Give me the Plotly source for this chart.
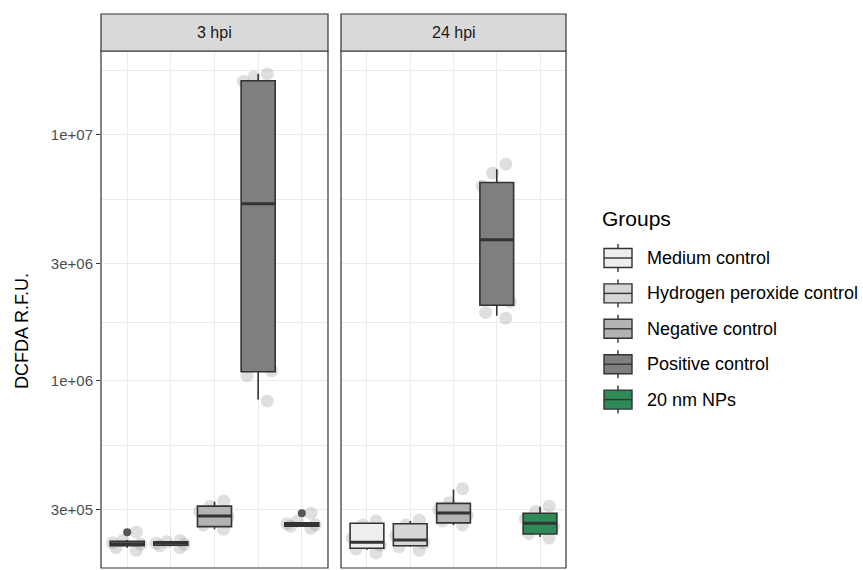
import plotly.graph_objects as go

# ---------------- data ----------------
groups = ["Medium control", "Hydrogen peroxide control", "Negative control",
          "Positive control", "20 nm NPs"]
fills = ["#eeeeee", "#d6d6d6", "#b3b3b3", "#7f7f7f", "#2e8b57"]
facets = ["3 hpi", "24 hpi"]

# box statistics, order = groups
lower_3hpi = [2.10e5, 2.13e5, 2.50e5, 8.40e5, 2.55e5]
q1_3hpi = [2.14e5, 2.15e5, 2.56e5, 1.09e6, 2.57e5]
median_3hpi = [2.18e5, 2.19e5, 2.83e5, 5.25e6, 2.61e5]
q3_3hpi = [2.23e5, 2.22e5, 3.10e5, 1.66e7, 2.65e5]
upper_3hpi = [2.26e5, 2.24e5, 3.23e5, 1.77e7, 2.67e5]

lower_24hpi = [2.06e5, 2.12e5, 2.60e5, 1.84e6, 2.32e5]
q1_24hpi = [2.09e5, 2.14e5, 2.65e5, 2.03e6, 2.39e5]
median_24hpi = [2.21e5, 2.26e5, 2.91e5, 3.75e6, 2.64e5]
q3_24hpi = [2.64e5, 2.63e5, 3.18e5, 6.41e6, 2.90e5]
upper_24hpi = [2.66e5, 2.70e5, 3.62e5, 7.26e6, 3.08e5]

# individual (jittered) replicate points
points_3hpi = [
    [2.43e5, 2.25e5, 2.20e5, 2.17e5, 2.10e5, 2.05e5],
    [2.25e5, 2.22e5, 2.19e5, 2.17e5, 2.14e5, 2.10e5],
    [3.25e5, 3.10e5, 2.95e5, 2.80e5, 2.60e5, 2.50e5],
    [1.77e7, 1.72e7, 1.65e7, 1.10e6, 1.05e6, 8.30e5],
    [2.90e5, 2.70e5, 2.63e5, 2.60e5, 2.57e5, 2.52e5],
]
points_24hpi = [
    [2.70e5, 2.60e5, 2.30e5, 2.15e5, 2.08e5, 2.00e5],
    [2.72e5, 2.60e5, 2.35e5, 2.20e5, 2.12e5, 2.05e5],
    [3.65e5, 3.20e5, 3.00e5, 2.85e5, 2.70e5, 2.60e5],
    [7.60e6, 7.00e6, 6.20e6, 2.10e6, 1.90e6, 1.80e6],
    [3.10e5, 2.95e5, 2.75e5, 2.55e5, 2.40e5, 2.30e5],
]
# boxplot outliers (group index, value)
outliers_3hpi = [(0, 2.43e5), (4, 2.90e5)]
outliers_24hpi = []

y_tickvals = [3e5, 1e6, 3e6, 1e7]
y_ticktext = ["3e+05", "1e+06", "3e+06", "1e+07"]
y_minor = [5.48e5, 1.73e6, 5.48e6, 1.825e7]

# ---------------- figure ----------------
W, H = 863, 570
FONT = "Liberation Sans, Arial, sans-serif"
px = lambda x: x / W
py = lambda y: 1 - y / H

fig = go.Figure()

facet_data = [
    (points_3hpi, lower_3hpi, q1_3hpi, median_3hpi, q3_3hpi, upper_3hpi, outliers_3hpi, "x", "y"),
    (points_24hpi, lower_24hpi, q1_24hpi, median_24hpi, q3_24hpi, upper_24hpi, outliers_24hpi, "x2", "y2"),
]

for pts, lo, q1, med, q3, up, outl, xa, ya in facet_data:
    # jittered points (behind)
    for i, g in enumerate(groups):
        fig.add_trace(go.Box(
            x=[g] * len(pts[i]), y=pts[i], xaxis=xa, yaxis=ya,
            boxpoints="all", jitter=1.0, pointpos=0, width=0.8,
            fillcolor="rgba(0,0,0,0)", line=dict(width=0, color="rgba(0,0,0,0)"),
            marker=dict(size=13, color="rgba(150,150,150,0.3)", line=dict(width=0)),
            hoverinfo="skip", showlegend=False))
    # boxes
    for i, g in enumerate(groups):
        fig.add_trace(go.Box(
            x=[g], q1=[q1[i]], median=[med[i]], q3=[q3[i]],
            lowerfence=[lo[i]], upperfence=[up[i]],
            xaxis=xa, yaxis=ya, width=0.78, whiskerwidth=0,
            fillcolor=fills[i], line=dict(color="#333333", width=1.6),
            boxpoints=False, showlegend=False, name=g))
        # thick median (ggplot fatten)
        fig.add_trace(go.Box(
            x=[g], q1=[med[i]], median=[med[i]], q3=[med[i]],
            lowerfence=[med[i]], upperfence=[med[i]],
            xaxis=xa, yaxis=ya, width=0.78, whiskerwidth=0,
            fillcolor="rgba(0,0,0,0)", line=dict(color="#333333", width=3),
            boxpoints=False, showlegend=False, hoverinfo="skip"))
    # outliers
    if outl:
        fig.add_trace(go.Scatter(
            x=[groups[k] for k, _ in outl], y=[v for _, v in outl],
            xaxis=xa, yaxis=ya, mode="markers",
            marker=dict(size=8, color="#555555"), showlegend=False,
            hoverinfo="skip"))

xcommon = dict(type="category", categoryorder="array", categoryarray=groups,
               range=[-0.6, 4.6], showticklabels=False, ticks="",
               showgrid=True, gridcolor="#ebebeb", gridwidth=1.4,
               zeroline=False, showline=False)
ycommon = dict(type="log", range=[5.240, 7.341], tickmode="array",
               tickvals=y_tickvals, ticktext=y_ticktext,
               showgrid=True, gridcolor="#ebebeb", gridwidth=1.4,
               zeroline=False, showline=False,
               minor=dict(tickmode="array", tickvals=y_minor, showgrid=True,
                          gridcolor="#ebebeb", gridwidth=0.8, ticks=""),
               domain=[py(568), py(51)])

fig.update_layout(
    width=W, height=H, margin=dict(l=0, r=0, t=0, b=0),
    paper_bgcolor="white", plot_bgcolor="white",
    font=dict(family=FONT, color="#000000"),
    showlegend=False, boxmode="overlay",
    xaxis=dict(domain=[px(101), px(328)], anchor="y", **xcommon),
    xaxis2=dict(domain=[px(341), px(566)], anchor="y2", **xcommon),
    yaxis=dict(anchor="x", ticks="outside", ticklen=4, tickwidth=1.2,
               tickcolor="#333333", tickfont=dict(size=15, color="#4d4d4d"),
               **ycommon),
    yaxis2=dict(anchor="x2", matches="y", showticklabels=False, ticks="",
                **ycommon),
)

shapes = []
annotations = []
for xa, lab in [("x", facets[0]), ("x2", facets[1])]:
    shapes.append(dict(type="rect", xref=f"{xa} domain", yref="paper",
                       x0=0, x1=1, y0=py(568), y1=py(51),
                       line=dict(color="#333333", width=1.2),
                       fillcolor="rgba(0,0,0,0)", layer="above"))
    shapes.append(dict(type="rect", xref=f"{xa} domain", yref="paper",
                       x0=0, x1=1, y0=py(51), y1=py(14),
                       line=dict(color="#333333", width=1.2),
                       fillcolor="#d9d9d9", layer="above"))
    annotations.append(dict(text=lab, xref=f"{xa} domain", yref="paper",
                            x=0.5, y=py(32.5), showarrow=False,
                            font=dict(size=16, color="#1a1a1a", family=FONT),
                            xanchor="center", yanchor="middle"))

# y axis title
annotations.append(dict(text="DCFDA R.F.U.", xref="paper", yref="paper",
                        x=px(22), y=py(331), textangle=-90, showarrow=False,
                        font=dict(size=18, color="#000000", family=FONT),
                        xanchor="center", yanchor="middle"))

# legend (ggplot style)
annotations.append(dict(text="Groups", xref="paper", yref="paper",
                        x=px(600), y=py(219), showarrow=False,
                        xanchor="left", yanchor="middle",
                        font=dict(size=21, color="#000000", family=FONT)))
for i, g in enumerate(groups):
    cy = 258 + 35.4 * i
    shapes.append(dict(type="line", xref="paper", yref="paper",
                       x0=px(618), x1=px(618), y0=py(cy - 14), y1=py(cy + 14),
                       line=dict(color="#333333", width=1.4)))
    shapes.append(dict(type="rect", xref="paper", yref="paper",
                       x0=px(604), x1=px(632), y0=py(cy + 9.5), y1=py(cy - 9.5),
                       fillcolor=fills[i], line=dict(color="#333333", width=1.4)))
    shapes.append(dict(type="line", xref="paper", yref="paper",
                       x0=px(604), x1=px(632), y0=py(cy), y1=py(cy),
                       line=dict(color="#333333", width=1.4)))
    annotations.append(dict(text=g, xref="paper", yref="paper",
                            x=px(645), y=py(cy), showarrow=False,
                            xanchor="left", yanchor="middle",
                            font=dict(size=18, color="#000000", family=FONT)))

fig.update_layout(shapes=shapes, annotations=annotations)
fig.write_html("out.html", config={"displayModeBar": False},
               post_script="document.body.style.margin='0';document.body.style.padding='0';")
